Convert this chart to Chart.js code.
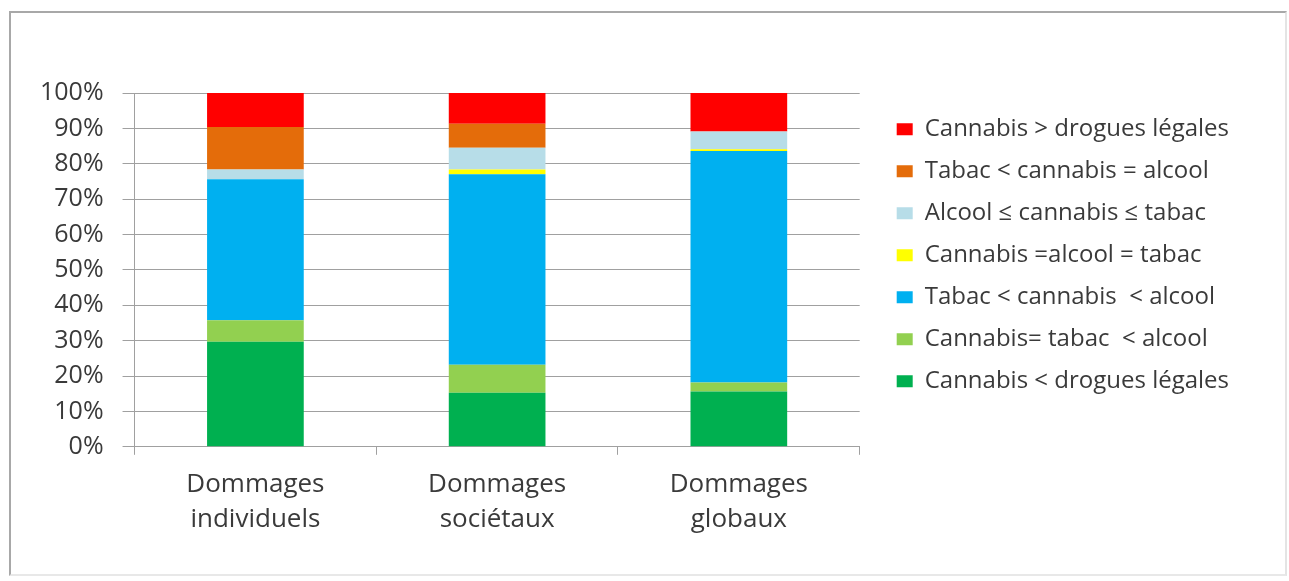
<!DOCTYPE html>
<html>
<head>
<meta charset="utf-8">
<script src="https://cdn.jsdelivr.net/npm/chart.js@4"></script>
<style>
  html, body { margin:0; padding:0; background:#fff; }
  #frame { position:absolute; left:9px; top:11px; width:1278px; height:565px; border:2px solid #a8a8a8; border-right-color:#e4e4e4; border-bottom-color:#e8e8e8; box-sizing:border-box; }
  #wrap { position:absolute; left:0; top:0; width:1289px; height:581px; }
</style>
</head>
<body>
<div id="frame"></div>
<div id="wrap"><canvas id="c" width="1289" height="581"></canvas></div>
<script>
const categories = [["Dommages", "individuels"], ["Dommages", "sociétaux"], ["Dommages", "globaux"]];
const seriesNames = [
  "Cannabis < drogues légales",
  "Cannabis= tabac  < alcool",
  "Tabac < cannabis  < alcool",
  "Cannabis =alcool = tabac",
  "Alcool \u2264 cannabis \u2264 tabac",
  "Tabac < cannabis = alcool",
  "Cannabis > drogues légales"
];
const cannabisInfLegales = [29.7, 15.3, 15.6];
const cannabisEgalTabacInfAlcool = [6.1, 7.9, 2.6];
const tabacInfCannabisInfAlcool = [39.8, 53.8, 65.4];
const tousEgaux = [0, 1.4, 0.5];
const alcoolInfCannabisInfTabac = [2.8, 6.1, 5.0];
const tabacInfCannabisEgalAlcool = [12.0, 6.8, 0];
const cannabisSupLegales = [9.6, 8.7, 10.9];
const yTicks = [0, 10, 20, 30, 40, 50, 60, 70, 80, 90, 100];

const seriesValues = [cannabisInfLegales, cannabisEgalTabacInfAlcool, tabacInfCannabisInfAlcool, tousEgaux, alcoolInfCannabisInfTabac, tabacInfCannabisEgalAlcool, cannabisSupLegales];
const colors = ["#00B050", "#92D050", "#00B0F0", "#FFFF00", "#B7DDE8", "#E46C0A", "#FF0000"];

const textColor = "#3a3a3a";
const fontFamily = "'Open Sans', 'DejaVu Sans', sans-serif";

new Chart(document.getElementById("c"), {
  type: "bar",
  data: {
    labels: categories,
    datasets: seriesValues.map((vals, i) => ({
      label: seriesNames[i],
      data: vals,
      backgroundColor: colors[i],
      borderWidth: 0,
      barPercentage: 0.4,
      categoryPercentage: 1.0
    }))
  },
  options: {
    responsive: false,
    animation: false,
    devicePixelRatio: 1,
    layout: { padding: { top: 93, left: 21, right: 50, bottom: 32 } },
    plugins: {
      tooltip: { enabled: false },
      legend: {
        position: "right",
        align: "start",
        reverse: true,
        maxWidth: 600,
        title: { display: true, text: "", font: { size: 1 }, padding: { top: 5, bottom: 0 } },
        labels: {
          boxWidth: 16,
          boxHeight: 12,
          padding: 18,
          color: textColor,
          font: { family: fontFamily, size: 24 }
        }
      }
    },
    scales: {
      x: {
        stacked: true,
        grid: { display: true, drawOnChartArea: false, drawTicks: true, tickLength: 8, color: "#a0a0a0", offset: true },
        border: { display: true, color: "#a0a0a0", width: 1 },
        ticks: { color: textColor, padding: 12, maxRotation: 0, font: { family: fontFamily, size: 26, lineHeight: 1.35 } }
      },
      y: {
        stacked: true,
        min: 0,
        max: 100,
        afterBuildTicks: (scale) => { scale.ticks = yTicks.map(v => ({ value: v })); },
        grid: { color: "#a0a0a0", tickLength: 12, drawTicks: true },
        border: { display: true, color: "#a0a0a0", width: 1 },
        ticks: { color: textColor, padding: 19, font: { family: fontFamily, size: 25 }, callback: (v) => v + "%" }
      },
      y2: {
        position: "right",
        display: true,
        grid: { display: false },
        border: { display: false },
        ticks: { display: false },
        afterFit: (s) => { s.width = 19; }
      }
    }
  }
});
</script>
</body>
</html>
